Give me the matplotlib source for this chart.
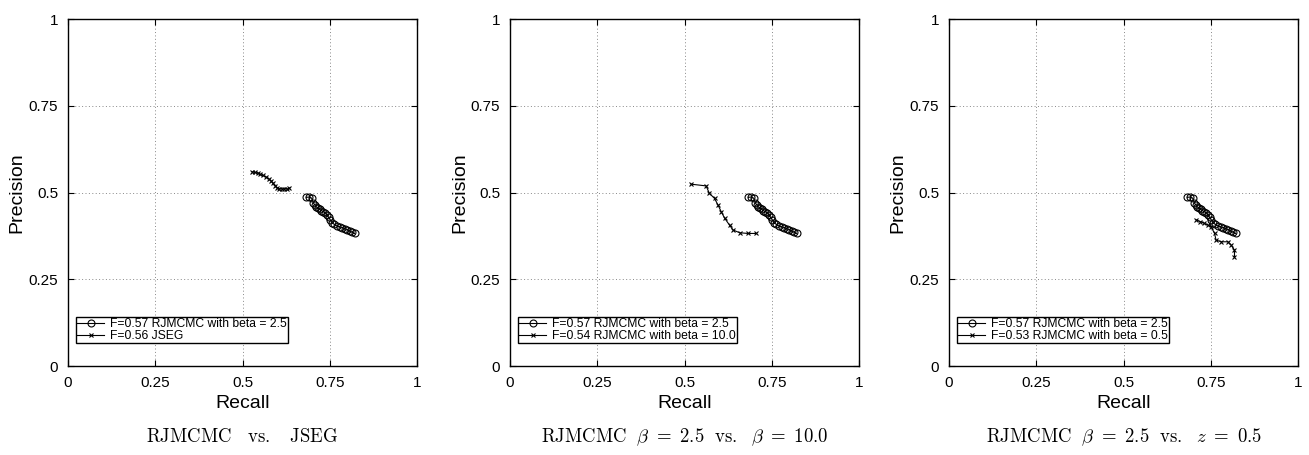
import matplotlib
matplotlib.use("Agg")
import matplotlib.pyplot as plt

plt.rcParams['font.family'] = ['Liberation Sans', 'DejaVu Sans']
plt.rcParams['mathtext.fontset'] = 'cm'

# RJMCMC beta = 2.5 (shared across panels)
rj_recall = [0.683, 0.690, 0.698, 0.703, 0.708, 0.712, 0.716, 0.721, 0.726, 0.731, 0.737, 0.742,
             0.747, 0.752, 0.757, 0.763, 0.770, 0.778, 0.786, 0.793, 0.800, 0.808, 0.815, 0.821]
rj_precision = [0.486, 0.487, 0.484, 0.470, 0.463, 0.458, 0.455, 0.452, 0.448, 0.445, 0.441, 0.436,
                0.428, 0.420, 0.413, 0.408, 0.404, 0.401, 0.399, 0.396, 0.393, 0.389, 0.385, 0.382]

# JSEG
jseg_recall = [0.527, 0.535, 0.543, 0.551, 0.559, 0.567, 0.575, 0.582, 0.588, 0.594, 0.600, 0.606,
               0.613, 0.620, 0.627, 0.634]
jseg_precision = [0.560, 0.558, 0.556, 0.552, 0.549, 0.545, 0.540, 0.533, 0.526, 0.519, 0.514, 0.511,
                  0.510, 0.511, 0.510, 0.512]

# RJMCMC beta = 10.0
b10_recall = [0.519, 0.562, 0.571, 0.586, 0.596, 0.605, 0.615, 0.629, 0.639, 0.658, 0.682, 0.706]
b10_precision = [0.524, 0.519, 0.498, 0.483, 0.464, 0.445, 0.426, 0.406, 0.392, 0.384, 0.382, 0.382]

# RJMCMC z = 0.5
z05_recall = [0.709, 0.720, 0.732, 0.742, 0.751, 0.761, 0.765, 0.780, 0.799, 0.808, 0.818, 0.818]
z05_precision = [0.421, 0.416, 0.411, 0.406, 0.401, 0.382, 0.363, 0.358, 0.358, 0.349, 0.334, 0.315]

panels = [
    dict(other=(jseg_recall, jseg_precision),
         labels=["F=0.57 RJMCMC with beta = 2.5", "F=0.56 JSEG"],
         caption=r"$\mathrm{RJMCMC\ \ \ vs.\ \ \ JSEG}$"),
    dict(other=(b10_recall, b10_precision),
         labels=["F=0.57 RJMCMC with beta = 2.5", "F=0.54 RJMCMC with beta = 10.0"],
         caption=r"$\mathrm{RJMCMC}\ \ \beta\ =\ 2.5\ \ \mathrm{vs.}\ \ \beta\ =\ 10.0$"),
    dict(other=(z05_recall, z05_precision),
         labels=["F=0.57 RJMCMC with beta = 2.5", "F=0.53 RJMCMC with beta = 0.5"],
         caption=r"$\mathrm{RJMCMC}\ \ \beta\ =\ 2.5\ \ \mathrm{vs.}\ \ z\ =\ 0.5$"),
]

ticks = [0, 0.25, 0.5, 0.75, 1]
tick_labels = ["0", "0.25", "0.5", "0.75", "1"]

fig = plt.figure(figsize=(13.09, 4.55), dpi=100)
lefts = [68, 510, 949]
W, H = 1309, 455
for left, p in zip(lefts, panels):
    ax = fig.add_axes([left / W, (455 - 366) / H, 349 / W, 347 / H])
    ax.plot(rj_recall, rj_precision, '-', color='black', lw=0.8, marker='o',
            markersize=5, markerfacecolor='none', markeredgewidth=0.8, label=p['labels'][0])
    ax.plot(p['other'][0], p['other'][1], '-', color='black', lw=0.8, marker='x',
            markersize=3.5, markeredgewidth=0.8, label=p['labels'][1])
    ax.set_xlim(0, 1)
    ax.set_ylim(0, 1)
    ax.set_xticks(ticks)
    ax.set_xticklabels(tick_labels)
    ax.set_yticks(ticks)
    ax.set_yticklabels(tick_labels)
    ax.tick_params(direction='in', top=True, right=True, labelsize=11, length=4, width=0.8, pad=7)
    ax.grid(True, linestyle=(0, (1, 2.5)), color='#888888', lw=0.7)
    for s in ax.spines.values():
        s.set_linewidth(1.0)
    ax.set_xlabel("Recall", fontsize=14, labelpad=4)
    ax.set_ylabel("Precision", fontsize=14, labelpad=2)
    leg = ax.legend(loc='lower left', bbox_to_anchor=(0.023, 0.066), fontsize=8.7,
                    frameon=True, fancybox=False, framealpha=1, edgecolor='black',
                    handlelength=2.2, borderpad=0.1, labelspacing=0.0, handletextpad=0.5,
                    borderaxespad=0)
    leg.get_frame().set_linewidth(1.0)
    ax.text(0.5, -0.205, p['caption'], transform=ax.transAxes, ha='center', va='center',
            fontsize=13.5)

fig.savefig("out.png", dpi=100)
